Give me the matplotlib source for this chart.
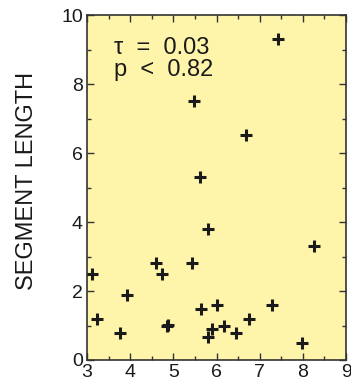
import matplotlib
matplotlib.use("Agg")
import matplotlib.pyplot as plt
from matplotlib.ticker import MultipleLocator

plt.rcParams['font.family'] = ['Liberation Sans', 'DejaVu Sans']

x_vals = [3.12, 3.23, 3.77, 3.93, 4.60, 4.74, 4.85, 4.87, 5.43, 5.80, 5.65, 6.01,
          5.80, 5.89, 6.18, 6.45, 6.76, 7.28, 7.99, 8.26, 7.43, 5.47, 6.68, 5.61]
y_vals = [2.50, 1.20, 0.77, 1.89, 2.81, 2.50, 0.99, 1.01, 2.81, 3.79, 1.49, 1.60,
          0.68, 0.90, 0.99, 0.77, 1.20, 1.60, 0.48, 3.29, 9.29, 7.51, 6.51, 5.30]
x_ticks = [3, 4, 5, 6, 7, 8, 9]
y_ticks = [0, 2, 4, 6, 8, 10]
ylabel = "SEGMENT LENGTH"
stats_text = "\u03c4  =  0.03\np  <  0.82"

fig = plt.figure(figsize=(3.51, 3.90), dpi=100)
ax = fig.add_axes([87/351, 30/390, 259/351, 345/390])
ax.set_facecolor('#FFF5AA')
ax.plot(x_vals, y_vals, linestyle='none', marker='+', markersize=9,
        markeredgewidth=2.2, color='#1a1a1a')
ax.set_xlim(3, 9)
ax.set_ylim(0, 10)
ax.set_xticks(x_ticks)
ax.set_yticks(y_ticks)
ax.xaxis.set_minor_locator(MultipleLocator(0.5))
ax.yaxis.set_minor_locator(MultipleLocator(1))
ax.tick_params(which='both', direction='in', top=True, right=True,
               colors='#333333', labelcolor='#1a1a1a', labelsize=14, width=1)
ax.tick_params(which='major', length=5, pad=3)
ax.tick_params(which='minor', length=3)
for s in ax.spines.values():
    s.set_color('#333333')
    s.set_linewidth(1.2)
ax.set_ylabel(ylabel, fontsize=17, color='#1a1a1a')
ax.yaxis.set_label_coords(-0.19, 0.52)
ax.text(0.105, 0.935, stats_text, transform=ax.transAxes, fontsize=17,
        va='top', ha='left', color='#1a1a1a', linespacing=1.0)
fig.savefig('out.png', dpi=100)
